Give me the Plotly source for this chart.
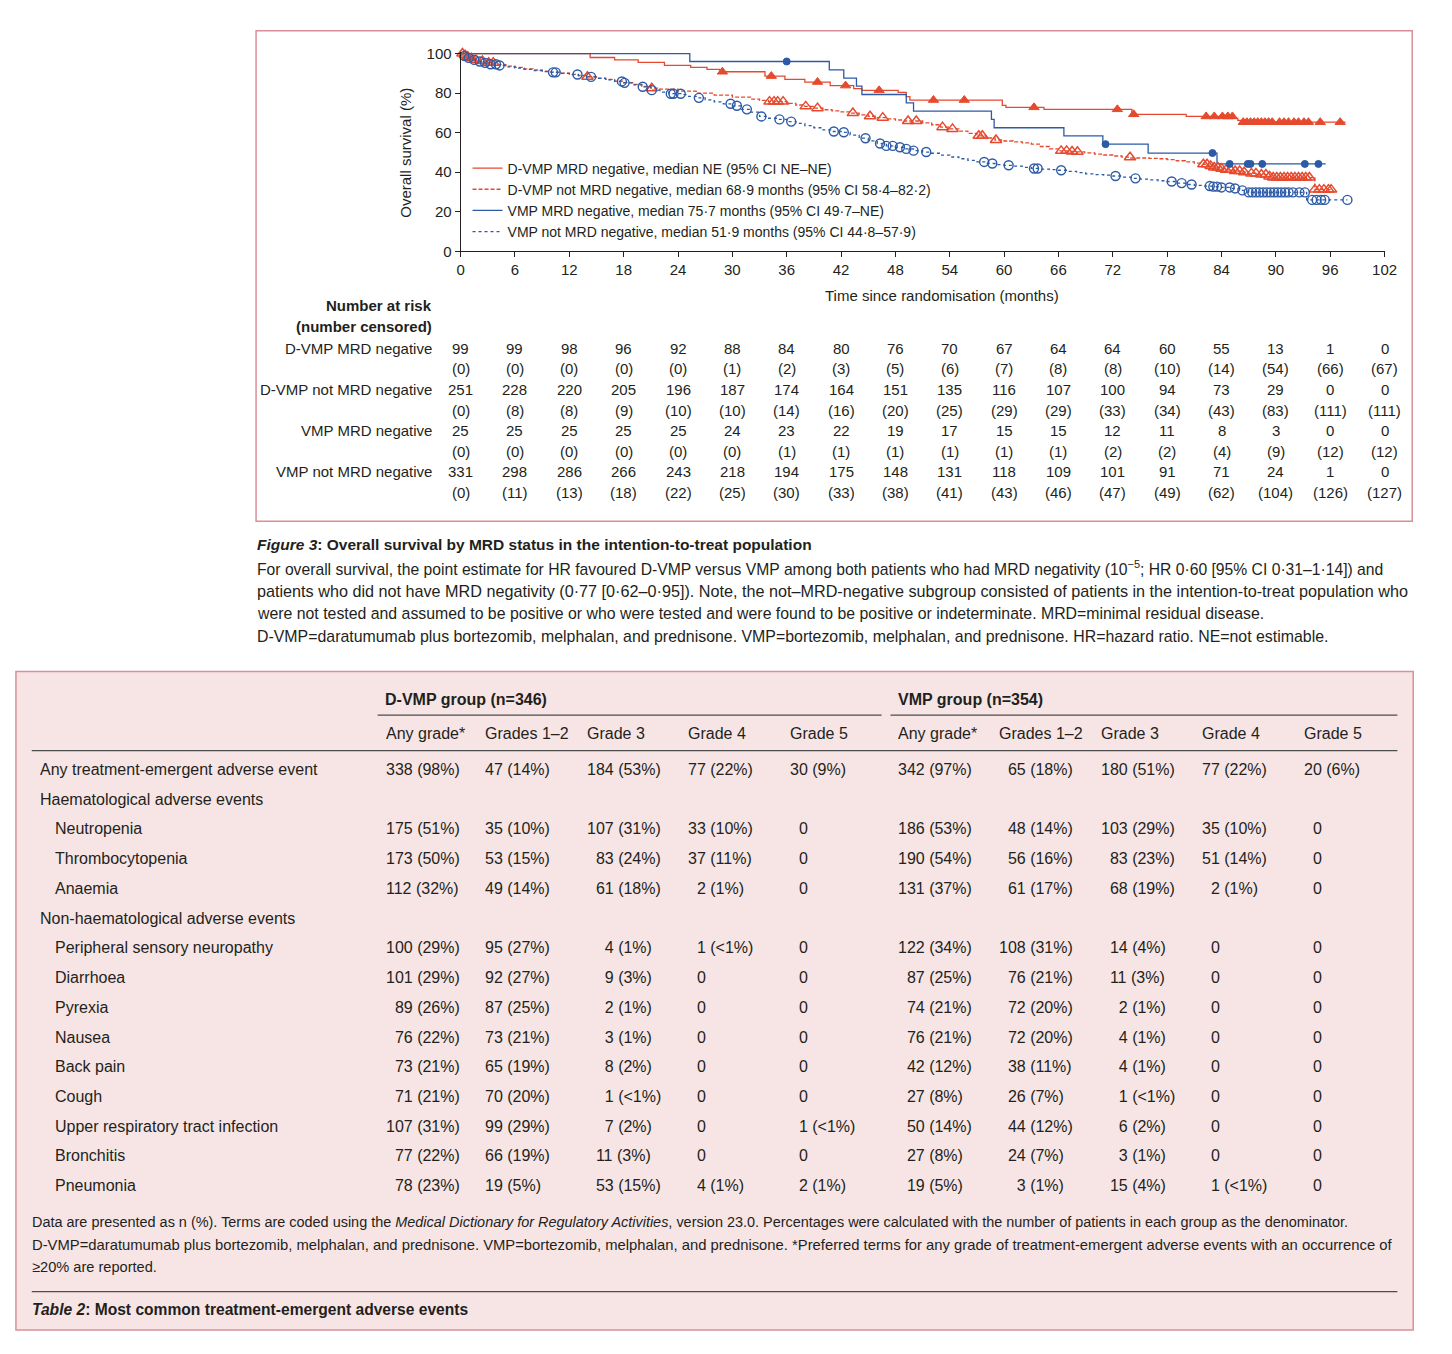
import numpy as np
import plotly.graph_objects as go

# The page keeps the browser's default 8px body margin, so the figure is drawn 16px
# smaller and every layout position below is given in page pixels minus that margin.
PAGE_W, PAGE_H = 1452, 1354
MARGIN = 8
W, H = PAGE_W - 2 * MARGIN, PAGE_H - 2 * MARGIN
FONT = "Liberation Sans, Arial, sans-serif"
TXT = "#231f20"
RED = "#e64a2e"
BLUE = "#2c5aa6"
BORDER = "#d8909a"
FILL = "#f7e5e5"
RULE = "#4d4d4d"

# ------------------------------------------------------------------ KM data
month_ticks = list(range(0, 103, 6))
surv_ticks = [0, 20, 40, 60, 80, 100]

legend_names = [
    "D-VMP MRD negative, median NE (95% CI NE–NE)",
    "D-VMP not MRD negative, median 68·9 months (95% CI 58·4–82·2)",
    "VMP MRD negative, median 75·7 months (95% CI 49·7–NE)",
    "VMP not MRD negative, median 51·9 months (95% CI 44·8–57·9)",
]

dvmp_neg_t = [0, 14.3, 17.0, 19.6, 22.5, 25.4, 27.2, 28.6, 33.6, 35.8, 38.0, 40.8, 43.4, 44.3,
              48.3, 49.2, 49.6, 59.8, 60.2, 64.4, 74.1, 80.1, 85.3, 85.8, 86.3]
dvmp_neg_s = [100, 98.0, 96.8, 95.5, 94.0, 93.0, 92.0, 90.8, 88.6, 87.0, 85.6, 83.8, 82.3, 81.4,
              80.4, 78.2, 76.5, 73.8, 72.8, 71.8, 69.3, 68.2, 67.2, 66.2, 65.3]
dvmp_neg_end = 97.7
dvmp_neg_cens = [28.9, 34.3, 39.4, 42.5, 46.2, 52.2, 55.6, 63.3, 72.5, 74.3, 82.3, 83.2, 84.1, 84.7,
                 85.2, 86.4, 86.8, 87.2, 87.6, 88.0, 88.4, 88.8, 89.2, 89.6, 90.4, 90.9, 91.4, 92.0,
                 92.5, 93.1, 93.6, 94.9, 97.1]

dvmp_not_t = [0, 0.3, 0.7, 1.0, 1.5, 2.0, 3.0, 4.0, 5, 6, 7, 8, 9, 10, 11, 12, 13, 14, 15, 16, 17,
              18, 19, 20, 21, 22, 24, 26, 28, 30, 32, 33, 34, 36, 37, 38, 39, 40, 41, 42, 43, 44,
              45, 46, 47, 48, 49, 51, 52, 53, 54, 55, 56, 57, 58, 59, 60, 61, 62, 63, 64, 65, 66,
              67, 68, 68.9, 70, 71, 72, 73, 74, 76, 77, 78, 79, 80, 81, 82, 82.6, 83.2, 83.8, 84.5,
              85.3, 86.2, 87.0, 88.0, 89.0, 89.5, 94.3]
dvmp_not_s = [100, 99.2, 98.4, 97.6, 96.8, 96.2, 95.4, 94.4, 93.6, 93.0, 92.3, 91.7, 91.1, 90.6,
              90.1, 89.5, 88.9, 88.3, 87.6, 86.9, 86.1, 85.3, 84.4, 83.4, 82.5, 82.0, 81.0, 80.0,
              79.0, 78.0, 77.0, 76.3, 75.7, 74.8, 74.0, 73.3, 72.4, 71.6, 71.0, 70.5, 69.9, 69.0,
              68.3, 67.6, 67.0, 66.4, 65.9, 65.0, 64.0, 62.8, 61.9, 60.8, 59.6, 58.4, 57.3, 56.3,
              55.8, 55.3, 54.8, 54.2, 53.0, 51.8, 50.8, 50.5, 50.3, 49.8, 49.2, 48.7, 48.2, 47.6,
              47.2, 47.0, 46.8, 46.4, 45.8, 45.2, 44.6, 44.0, 43.2, 42.4, 41.8, 41.2, 40.6, 40.0,
              39.4, 38.8, 37.9, 37.3, 31.2]
dvmp_not_end = 96.2
dvmp_not_cens = [0.2, 0.5, 0.8, 1.2, 1.7, 2.4, 3.1, 3.6, 14.0, 21.1, 34.1, 34.6, 35.0, 35.6, 38.1,
                 39.4, 43.3, 45.2, 46.6, 49.4, 50.3, 53.2, 54.3, 57.2, 57.6, 59.1, 66.3, 66.9, 67.5,
                 68.1, 73.9, 82.0, 82.4, 82.8, 83.2, 83.6, 84.0, 84.5, 85.0, 85.5, 86.0, 86.5, 87.3,
                 87.8, 88.4, 88.9, 89.3, 89.7, 90.1, 90.5, 90.9, 91.3, 91.7, 92.1, 92.5, 92.9, 93.3,
                 93.7, 94.3, 94.8, 95.3, 95.8, 96.1]

vmp_neg_t = [0, 25.3, 40.7, 42.3, 43.7, 44.3, 49.2, 50.0, 58.6, 58.9, 66.6, 70.9, 75.9, 83.5]
vmp_neg_s = [100, 96.0, 91.8, 87.6, 83.5, 79.3, 75.1, 70.9, 66.7, 62.5, 58.4, 54.2, 49.7, 44.2]
vmp_neg_end = 95.5
vmp_neg_cens = [36.0, 71.2, 83.0, 84.9, 86.9, 87.2, 88.5, 93.2, 94.7]

vmp_not_t = [0, 0.3, 0.7, 1.2, 1.8, 2.5, 3.3, 4.0, 5, 6, 7, 8, 9, 10, 11, 12, 13, 14, 15, 16, 17,
             18, 19, 20, 21, 22, 23, 24.5, 25, 26, 27, 28, 29, 30, 31, 32, 33, 34, 35, 36, 37, 38,
             39, 40, 41, 42, 43, 44, 45, 46, 47, 48, 49, 50, 51, 52, 53, 54, 55, 56, 57, 58, 59,
             60, 61, 62, 63, 64, 65, 66, 67, 68, 69, 70, 71, 72, 73, 74, 75, 76, 77, 78, 79, 80,
             81, 82, 83, 84, 85, 86, 87, 93.4]
vmp_not_s = [100, 98.8, 97.8, 96.8, 96.0, 95.3, 94.6, 94.0, 93.3, 92.6, 92.0, 91.4, 90.9, 90.5,
             90.0, 89.4, 88.8, 88.2, 87.5, 86.7, 85.9, 85.2, 84.2, 83.2, 81.5, 80.5, 79.7, 79.2,
             78.4, 77.6, 76.6, 75.6, 74.6, 73.6, 71.8, 70.4, 68.2, 67.3, 66.7, 65.6, 64.7, 63.6,
             62.5, 61.4, 60.6, 60.2, 58.8, 57.2, 55.9, 54.5, 53.3, 52.6, 51.8, 50.9, 50.2, 49.6,
             48.6, 47.7, 46.8, 46.0, 45.2, 44.4, 43.8, 43.5, 43.1, 42.5, 41.9, 41.6, 41.3, 41.0,
             40.4, 39.8, 39.2, 38.8, 38.5, 38.1, 37.5, 36.9, 36.5, 36.1, 35.7, 35.3, 34.5, 33.8,
             33.3, 33.0, 32.7, 32.3, 31.8, 30.8, 29.8, 26.0]
vmp_not_end = 97.9
vmp_not_cens = [0.4, 0.9, 1.5, 2.1, 2.7, 3.3, 3.9, 4.3, 10.2, 10.5, 12.9, 14.4, 17.8, 18.1, 20.1,
                21.1, 23.2, 23.5, 24.3, 26.3, 29.8, 30.5, 31.6, 33.2, 35.2, 36.5, 41.2, 42.3, 44.7,
                46.3, 47.0, 47.7, 48.5, 49.2, 50.0, 51.4, 57.8, 58.7, 60.5, 63.3, 63.7, 66.3, 72.3,
                74.5, 78.5, 79.6, 80.7, 82.7, 83.1, 83.5, 84.0, 84.9, 85.5, 86.3, 87.0, 87.4, 87.8,
                88.2, 88.6, 89.0, 89.4, 89.8, 90.2, 90.6, 91.0, 91.4, 91.9, 92.6, 93.2, 94.0, 94.5,
                95.0, 95.4, 97.9]

# ------------------------------------------------------------------ number at risk
risk_labels = ["D-VMP MRD negative", "D-VMP not MRD negative", "VMP MRD negative", "VMP not MRD negative"]
dvmp_neg_risk = [99, 99, 98, 96, 92, 88, 84, 80, 76, 70, 67, 64, 64, 60, 55, 13, 1, 0]
dvmp_neg_censored = [0, 0, 0, 0, 0, 1, 2, 3, 5, 6, 7, 8, 8, 10, 14, 54, 66, 67]
dvmp_not_risk = [251, 228, 220, 205, 196, 187, 174, 164, 151, 135, 116, 107, 100, 94, 73, 29, 0, 0]
dvmp_not_censored = [0, 8, 8, 9, 10, 10, 14, 16, 20, 25, 29, 29, 33, 34, 43, 83, 111, 111]
vmp_neg_risk = [25, 25, 25, 25, 25, 24, 23, 22, 19, 17, 15, 15, 12, 11, 8, 3, 0, 0]
vmp_neg_censored = [0, 0, 0, 0, 0, 0, 1, 1, 1, 1, 1, 1, 2, 2, 4, 9, 12, 12]
vmp_not_risk = [331, 298, 286, 266, 243, 218, 194, 175, 148, 131, 118, 109, 101, 91, 71, 24, 1, 0]
vmp_not_censored = [0, 11, 13, 18, 22, 25, 30, 33, 38, 41, 43, 46, 47, 49, 62, 104, 126, 127]

# ------------------------------------------------------------------ table 2 data
ae_labels = ["Any treatment-emergent adverse event", "Haematological adverse events", "Neutropenia",
             "Thrombocytopenia", "Anaemia", "Non-haematological adverse events",
             "Peripheral sensory neuropathy", "Diarrhoea", "Pyrexia", "Nausea", "Back pain", "Cough",
             "Upper respiratory tract infection", "Bronchitis", "Pneumonia"]
ae_indent = [0, 0, 1, 1, 1, 0, 1, 1, 1, 1, 1, 1, 1, 1, 1]
grade_headers = ["Any grade*", "Grades 1–2", "Grade 3", "Grade 4", "Grade 5"]
group_headers = ["D-VMP group (n=346)", "VMP group (n=354)"]

dvmp_any = ["338 (98%)", None, "175 (51%)", "173 (50%)", "112 (32%)", None, "100 (29%)", "101 (29%)",
            "89 (26%)", "76 (22%)", "73 (21%)", "71 (21%)", "107 (31%)", "77 (22%)", "78 (23%)"]
dvmp_g12 = ["47 (14%)", None, "35 (10%)", "53 (15%)", "49 (14%)", None, "95 (27%)", "92 (27%)",
            "87 (25%)", "73 (21%)", "65 (19%)", "70 (20%)", "99 (29%)", "66 (19%)", "19 (5%)"]
dvmp_g3 = ["184 (53%)", None, "107 (31%)", "83 (24%)", "61 (18%)", None, "4 (1%)", "9 (3%)",
           "2 (1%)", "3 (1%)", "8 (2%)", "1 (<1%)", "7 (2%)", "11 (3%)", "53 (15%)"]
dvmp_g4 = ["77 (22%)", None, "33 (10%)", "37 (11%)", "2 (1%)", None, "1 (<1%)", "0", "0", "0", "0",
           "0", "0", "0", "4 (1%)"]
dvmp_g5 = ["30 (9%)", None, "0", "0", "0", None, "0", "0", "0", "0", "0", "0", "1 (<1%)", "0", "2 (1%)"]
vmp_any = ["342 (97%)", None, "186 (53%)", "190 (54%)", "131 (37%)", None, "122 (34%)", "87 (25%)",
           "74 (21%)", "76 (21%)", "42 (12%)", "27 (8%)", "50 (14%)", "27 (8%)", "19 (5%)"]
vmp_g12 = ["65 (18%)", None, "48 (14%)", "56 (16%)", "61 (17%)", None, "108 (31%)", "76 (21%)",
           "72 (20%)", "72 (20%)", "38 (11%)", "26 (7%)", "44 (12%)", "24 (7%)", "3 (1%)"]
vmp_g3 = ["180 (51%)", None, "103 (29%)", "83 (23%)", "68 (19%)", None, "14 (4%)", "11 (3%)",
          "2 (1%)", "4 (1%)", "4 (1%)", "1 (<1%)", "6 (2%)", "3 (1%)", "15 (4%)"]
vmp_g4 = ["77 (22%)", None, "35 (10%)", "51 (14%)", "2 (1%)", None, "0", "0", "0", "0", "0", "0",
          "0", "0", "1 (<1%)"]
vmp_g5 = ["20 (6%)", None, "0", "0", "0", None, "0", "0", "0", "0", "0", "0", "0", "0", "0"]


# ------------------------------------------------------------------ helpers
def px(x):
    return (x - MARGIN) / W


def py(y):
    return 1 - (y - MARGIN) / H


def step_values(ts, ss, cs):
    ts = np.asarray(ts, dtype=float)
    ss = np.asarray(ss, dtype=float)
    idx = np.searchsorted(ts, np.asarray(cs, dtype=float), side="right") - 1
    return ss[idx]


anns = []


def add_text(text, x, y, size=15, xanchor="left", xref="paper", angle=0):
    anns.append(dict(text=text, x=px(x) if xref == "paper" else x, y=py(y), xref=xref, yref="paper",
                     xanchor=xanchor, yanchor="middle", showarrow=False, textangle=angle,
                     font=dict(size=size, color=TXT, family=FONT)))


def pad_column(col):
    present = [c for c in col if c is not None]
    w = max(len(c.split(" ")[0]) for c in present)
    out = []
    for c in col:
        if c is None:
            out.append(None)
        else:
            out.append("\u2007" * (w - len(c.split(" ")[0])) + c)
    return out


fig = go.Figure()

curves = [
    (legend_names[0], dvmp_neg_t, dvmp_neg_s, dvmp_neg_end, dvmp_neg_cens, RED, "solid", "triangle-up", 9, 1),
    (legend_names[1], dvmp_not_t, dvmp_not_s, dvmp_not_end, dvmp_not_cens, RED, "4px,2px", "triangle-up-open", 10, 1.5),
    (legend_names[2], vmp_neg_t, vmp_neg_s, vmp_neg_end, vmp_neg_cens, BLUE, "solid", "circle", 7, 1),
    (legend_names[3], vmp_not_t, vmp_not_s, vmp_not_end, vmp_not_cens, BLUE, "3px,3px", "circle-open", 9, 1.4),
]

for name, t, s, end, cens, color, dash, sym, ms, mlw in curves:
    fig.add_trace(go.Scatter(x=list(t) + [end], y=list(s) + [s[-1]], mode="lines", name=name,
                             line=dict(color=color, width=1.3, dash=dash, shape="hv"),
                             hoverinfo="skip"))
for name, t, s, end, cens, color, dash, sym, ms, mlw in curves:
    fig.add_trace(go.Scatter(x=cens, y=step_values(t, s, cens), mode="markers", showlegend=False,
                             marker=dict(symbol=sym, size=ms, color=color, line=dict(color=color, width=mlw)),
                             cliponaxis=False, hoverinfo="skip"))

# axis titles
add_text("Time since randomisation (months)", 949, 292, 15, "center")
add_text("Overall survival (%)", 406, 147, 15, "center", angle=-90)

# number at risk table
add_text("<b>Number at risk</b>", 435, 302, 15, "right")
add_text("<b>(number censored)</b>", 435, 323, 15, "right")
risk_rows = [(dvmp_neg_risk, dvmp_neg_censored), (dvmp_not_risk, dvmp_not_censored),
             (vmp_neg_risk, vmp_neg_censored), (vmp_not_risk, vmp_not_censored)]
for r, (lab, (nr, nc)) in enumerate(zip(risk_labels, risk_rows)):
    y0 = 345 + r * 41.5
    add_text(lab, 435, y0, 15, "right")
    for t, a, c in zip(month_ticks, nr, nc):
        add_text(str(a), t, y0, 15, "center", xref="x")
        add_text("(" + str(c) + ")", t, y0 + 21, 15, "center", xref="x")

# figure caption
cap_lines = [
    "<b><i>Figure 3</i>: Overall survival by MRD status in the intention-to-treat population</b>",
    "For overall survival, the point estimate for HR favoured D-VMP versus VMP among both patients who had MRD negativity (10<sup>−5</sup>; HR 0·60 [95% CI 0·31–1·14]) and",
    "patients who did not have MRD negativity (0·77 [0·62–0·95]). Note, the not–MRD-negative subgroup consisted of patients in the intention-to-treat population who",
    "were not tested and assumed to be positive or who were tested and were found to be positive or indeterminate. MRD=minimal residual disease.",
    "D-VMP=daratumumab plus bortezomib, melphalan, and prednisone. VMP=bortezomib, melphalan, and prednisone. HR=hazard ratio. NE=not estimable.",
]
cap_sizes = [15.5, 15.7, 16.2, 15.85, 15.9]
for i, line in enumerate(cap_lines):
    add_text(line, 254, 544 + i * 23.2, cap_sizes[i], "left")

# table 2
add_text("<b>" + group_headers[0] + "</b>", 383, 700, 16)
add_text("<b>" + group_headers[1] + "</b>", 903, 700, 16)
col_x = [384, 485, 588, 690, 793, 903, 1005, 1108, 1210, 1313]
for j, hdr in enumerate(grade_headers * 2):
    add_text(hdr, col_x[j], 735, 16)
columns = [dvmp_any, dvmp_g12, dvmp_g3, dvmp_g4, dvmp_g5, vmp_any, vmp_g12, vmp_g3, vmp_g4, vmp_g5]
for i, (lab, ind) in enumerate(zip(ae_labels, ae_indent)):
    yy = 771 + i * 30.07
    add_text(lab, 49 if ind else 34, yy, 16)
for j, col in enumerate(columns):
    padded = pad_column(col)
    for i, cell in enumerate(padded):
        if cell is None:
            continue
        add_text(cell.replace("<", "&lt;"), col_x[j], 771 + i * 30.07, 16)

foot_lines = [
    "Data are presented as n (%). Terms are coded using the <i>Medical Dictionary for Regulatory Activities</i>, version 23.0. Percentages were calculated with the number of patients in each group as the denominator.",
    "D-VMP=daratumumab plus bortezomib, melphalan, and prednisone. VMP=bortezomib, melphalan, and prednisone. *Preferred terms for any grade of treatment-emergent adverse events with an occurrence of",
    "≥20% are reported.",
]
foot_sizes = [14.45, 14.8, 14.6]
for i, line in enumerate(foot_lines):
    add_text(line, 26, 1229 + i * 22.5, foot_sizes[i])
add_text("<b><i>Table 2</i>: Most common treatment-emergent adverse events</b>", 26, 1317, 15.6)

shapes = [
    dict(type="rect", xref="paper", yref="paper", x0=px(255), x1=px(1425), y0=py(520), y1=py(24),
         line=dict(color=BORDER, width=1.5), fillcolor="white", layer="below"),
    dict(type="rect", xref="paper", yref="paper", x0=px(12), x1=px(1426), y0=py(1338), y1=py(672),
         line=dict(color=BORDER, width=1.5), fillcolor=FILL, layer="below"),
]
for (x0, y0, x1, y1) in [(378, 716, 888, 716), (897, 716, 1410, 716), (28, 752, 1410, 752),
                         (28, 1299, 1410, 1299)]:
    shapes.append(dict(type="line", xref="paper", yref="paper", x0=px(x0), x1=px(x1), y0=py(y0), y1=py(y1),
                       line=dict(color=RULE, width=1.2)))

fig.update_layout(
    width=W, height=H, margin=dict(l=0, r=0, t=0, b=0),
    paper_bgcolor="white", plot_bgcolor="rgba(0,0,0,0)",
    font=dict(family=FONT, color=TXT, size=15),
    xaxis=dict(domain=[px(462), px(1397)], range=[0, 102], tickvals=month_ticks, ticks="outside",
               ticklen=5, tickwidth=1, tickcolor=TXT, showline=True, linecolor=TXT, linewidth=1,
               showgrid=False, zeroline=False, tickfont=dict(size=15, color=TXT), fixedrange=True),
    yaxis=dict(domain=[py(247), py(45)], range=[0, 101], tickvals=surv_ticks, ticks="outside",
               ticklen=5, tickwidth=1, tickcolor=TXT, showline=True, linecolor=TXT, linewidth=1,
               showgrid=False, zeroline=False, tickfont=dict(size=15, color=TXT), fixedrange=True),
    legend=dict(x=px(469), y=py(147), xanchor="left", yanchor="top", bgcolor="rgba(0,0,0,0)",
                font=dict(size=14, color=TXT, family=FONT), itemwidth=30, tracegroupgap=0),
    showlegend=True, hovermode=False,
    annotations=anns, shapes=shapes,
)

fig.write_html("out.html", config={"displayModeBar": False})
